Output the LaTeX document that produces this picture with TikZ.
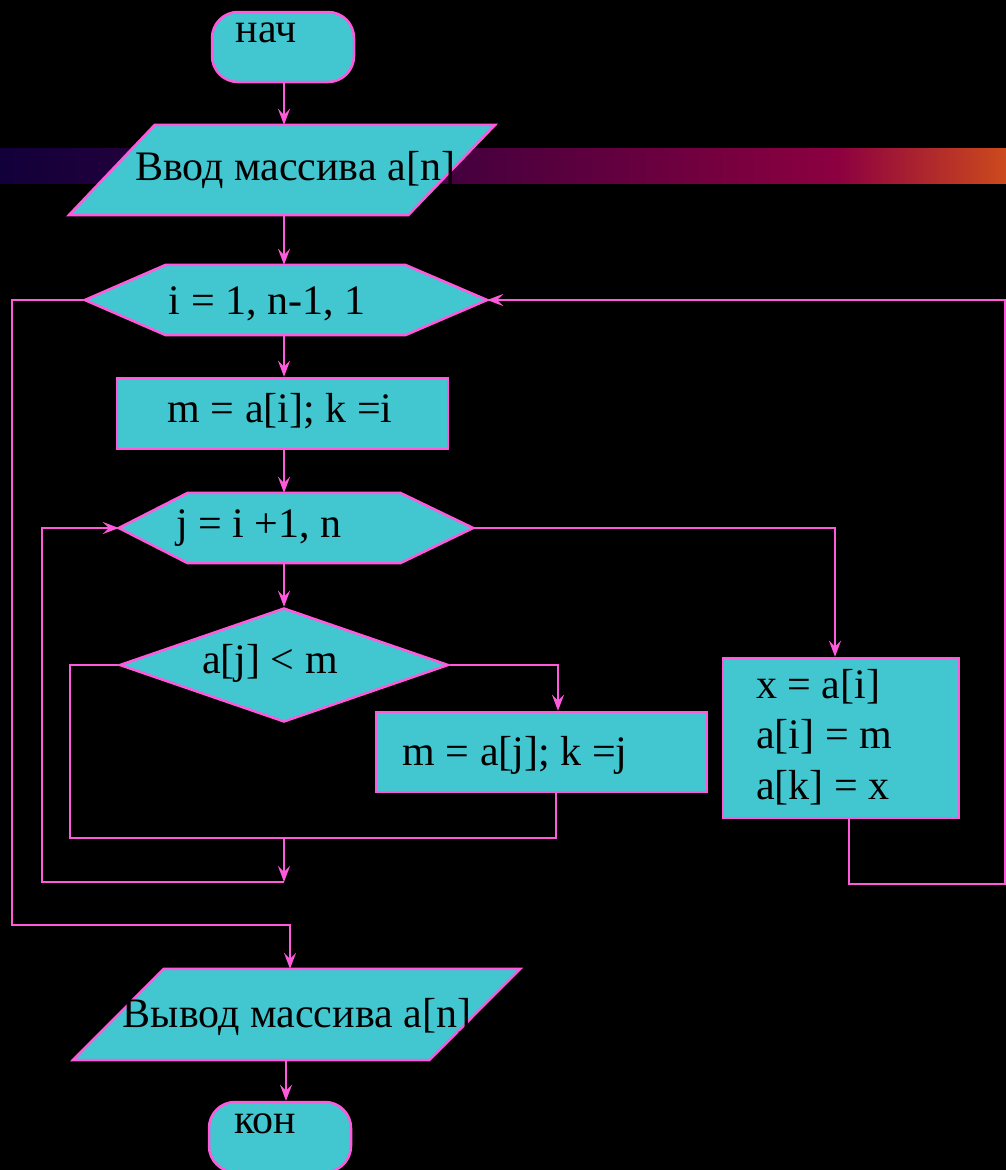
\documentclass[tikz,border=0pt]{standalone}
\usepackage{fontspec}
\setmainfont{Liberation Serif}
\usetikzlibrary{shapes.geometric,arrows.meta}
\definecolor{fillc}{RGB}{66,198,208}
\definecolor{linec}{RGB}{255,90,220}
\definecolor{ga}{RGB}{18,0,58}
\definecolor{gb}{RGB}{72,0,62}
\definecolor{gc}{RGB}{140,0,64}
\definecolor{gd}{RGB}{204,74,28}
\begin{document}
\begin{tikzpicture}[x=1pt,y=-1pt,
  line/.style={draw=linec,line width=2.2pt},
  arr/.style={line,-{Stealth[length=16pt,width=12pt,inset=6pt]}},
  shp/.style={fill=fillc,draw=linec,line width=2.5pt},
  txt/.style={font=\fontsize{42}{50}\selectfont,inner sep=0pt,text=black},
  term/.style={shp,rectangle,rounded corners=26pt,minimum width=142pt,minimum height=70pt,inner sep=0pt},
  procbox/.style={shp,rectangle,inner sep=0pt},
  ghost/.style={rectangle,inner sep=0pt,draw=none}]
\useasboundingbox (0,0) rectangle (1006,1170);
\clip (0,0) rectangle (1006,1170);
\fill[black] (0,0) rectangle (1006,1170);
% gradient bar
\shade[left color=ga,right color=gb] (0,148) rectangle (470.5,183);
\shade[left color=gb,right color=gc] (470,148) rectangle (837.5,183);
\shade[left color=gc,right color=gd] (837,148) rectangle (1006,183);
% column coordinates
\coordinate (col) at (284,0);
\coordinate (yesx) at (558,0);
\coordinate (jL) at (70,838);
\coordinate (jR) at (556,838);
\coordinate (m1) at (284,838);
\coordinate (m2) at (284,882);
\coordinate (lb2) at (42,882);
\coordinate (c835) at (835,0);
\coordinate (c849) at (849,0);
\coordinate (rb) at (1005,884);
\coordinate (lo1) at (12,925);
\coordinate (c290) at (290,925);
\coordinate (c286) at (286,0);
% shapes
\node[term] (start) at (283,47) {};
\node[ghost,minimum width=426pt,minimum height=90pt] (p1) at (282,170) {};
\filldraw[shp] (p1.south west) -- ([xshift=-87pt]p1.south east) -- (p1.north east) -- ([xshift=86pt]p1.north west) -- cycle;
\node[ghost,minimum width=402pt,minimum height=70pt] (hex1) at (286,300) {};
\filldraw[shp] (hex1.west) -- ([xshift=81pt]hex1.north west) -- ([xshift=-82pt]hex1.north east) -- (hex1.east) -- ([xshift=-82pt]hex1.south east) -- ([xshift=81pt]hex1.south west) -- cycle;
\node[procbox,minimum width=331pt,minimum height=71pt] (r1) at (282.5,413.5) {};
\node[ghost,minimum width=354pt,minimum height=70pt] (hex2) at (296,528) {};
\filldraw[shp] (hex2.west) -- ([xshift=69pt]hex2.north west) -- ([xshift=-73pt]hex2.north east) -- (hex2.east) -- ([xshift=-73pt]hex2.south east) -- ([xshift=69pt]hex2.south west) -- cycle;
\node[shp,diamond,inner sep=0pt,minimum width=329pt,minimum height=114pt] (dia) at (284,665) {};
\node[procbox,minimum width=331pt,minimum height=80pt] (r2) at (541.5,752) {};
\node[procbox,minimum width=236pt,minimum height=160pt] (r3) at (841,738) {};
\node[ghost,minimum width=447pt,minimum height=91pt] (p2) at (296.5,1014.5) {};
\filldraw[shp] (p2.south west) -- ([xshift=-91pt]p2.south east) -- (p2.north east) -- ([xshift=91pt]p2.north west) -- cycle;
\node[term] (end) at (280,1137) {};
% texts
\node[txt,anchor=base] (tstart) at (266,42) {нач};
\node[txt,anchor=base] (tp1) at (295,180) {Ввод массива a[n]};
\node[txt,anchor=base] (thex1) at (267,314) {i = 1, n-1, 1};
\node[txt,anchor=base] (tr1) at (280,422) {m = a[i]; k =i};
\node[txt,anchor=base] (thex2) at (259,537) {j = i +1, n};
\node[txt,anchor=base] (tdia) at (270,673) {a[j] < m};
\node[txt,anchor=base] (tr2) at (515,765) {m = a[j]; k =j};
\node[txt,anchor=base west] (tr3a) at (756,698) {x = a[i]};
\node[txt,anchor=base west] (tr3b) at (756,748) {a[i] = m};
\node[txt,anchor=base west] (tr3c) at (756,799) {a[k] = x};
\node[txt,anchor=base] (tp2) at (297,1027) {Вывод массива a[n]};
\node[txt,anchor=base] (tend) at (265,1133) {кон};
% connectors
\draw[arr] (start.south -| col) -- (p1.north -| col);
\draw[arr] (p1.south -| col) -- (hex1.north -| col);
\draw[arr] (hex1.south -| col) -- (r1.north -| col);
\draw[arr] (r1.south -| col) -- (hex2.north -| col);
\draw[arr] (hex2.south -| col) -- (dia.north);
\draw[arr] (dia.east) -| (r2.north -| yesx);
\draw[line] (dia.west) -| (jL) -- (jR) -- (r2.south -| jR);
\draw[arr] (m1) -- (m2);
\draw[arr] (m2) -- (lb2) |- (hex2.west);
\draw[arr] (hex2.east) -| (r3.north -| c835);
\draw[arr] (r3.south -| c849) |- (rb) |- (hex1.east);
\draw[arr] (hex1.west) -| (lo1) -- (c290) -- (p2.north -| c290);
\draw[arr] (p2.south -| c286) -- (end.north -| c286);
\end{tikzpicture}
\end{document}
